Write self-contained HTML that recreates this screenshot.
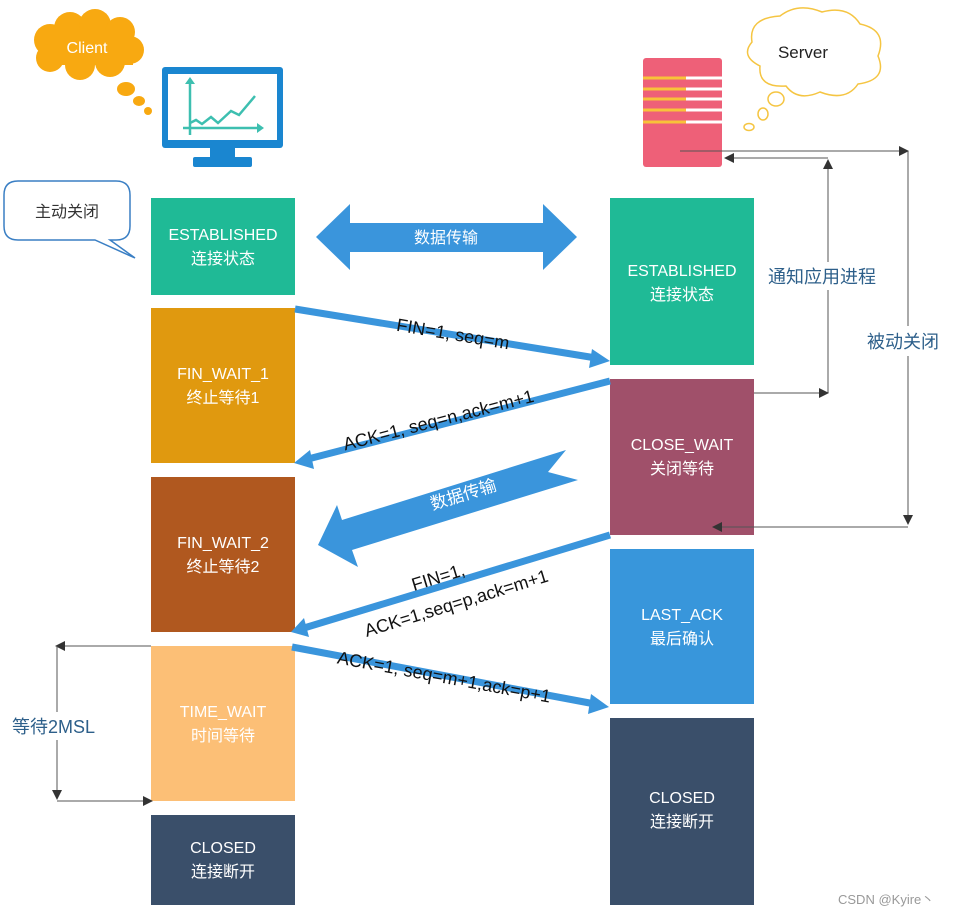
<!DOCTYPE html>
<html><head><meta charset="utf-8"><style>
html,body{margin:0;padding:0;background:#fff;}
svg{display:block;}
text{font-family:"Liberation Sans","Noto Sans CJK SC",sans-serif;}
</style></head><body>
<svg width="954" height="915" viewBox="0 0 954 915" xmlns="http://www.w3.org/2000/svg">
<defs>
<marker id="ah" markerWidth="10" markerHeight="10" refX="9" refY="5" orient="auto" markerUnits="userSpaceOnUse"><path d="M0,0 L10,5 L0,10 Z" fill="#333"/></marker>
</defs>
<g fill="#f8a911">
<circle cx="50" cy="40" r="16"/><circle cx="70" cy="28" r="16"/><circle cx="95" cy="25" r="16"/><circle cx="120" cy="32" r="15"/><circle cx="130" cy="50" r="14"/><circle cx="110" cy="62" r="15"/><circle cx="80" cy="65" r="15"/><circle cx="50" cy="58" r="14"/><rect x="48" y="30" width="85" height="35"/>
<ellipse cx="126" cy="89" rx="9" ry="7"/><ellipse cx="139" cy="101" rx="6" ry="5"/><ellipse cx="148" cy="111" rx="4" ry="4"/>
</g>
<text x="87" y="53" font-size="16" fill="#fff" text-anchor="middle">Client</text>
<rect x="162" y="67" width="121" height="81" rx="3" fill="#1a86d0"/>
<rect x="168" y="74" width="109" height="66" fill="#fff"/>
<rect x="210" y="147" width="25" height="11" fill="#1a86d0"/>
<rect x="193" y="157" width="59" height="10" rx="2" fill="#1a86d0"/>
<g stroke="#3dbfb0" stroke-width="2.5" fill="none">
<line x1="190" y1="80" x2="190" y2="135"/><line x1="183" y1="128" x2="262" y2="128"/>
<polyline points="190,123 196,120 202,124 211,117 218,123 231,111 239,115 255,96"/>
</g>
<path d="M185,84 L190,77 L195,84Z M257,123 L264,128 L257,133Z" fill="#3dbfb0"/>
<path d="M18,181 H116 Q130,181 130,195 V226 Q130,240 116,240 H110 L135,258 L95,240 H18 Q4,240 4,226 V195 Q4,181 18,181 Z" fill="#fff" stroke="#3a7fc4" stroke-width="1.5"/>
<text x="67" y="217" font-size="16" fill="#333" text-anchor="middle">主动关闭</text>
<g fill="#fff" stroke="#f5c542" stroke-width="1.5">
<path d="M752,42 Q748,18 780,16 Q798,2 822,12 Q848,5 860,24 Q888,30 878,56 Q888,80 858,84 Q846,102 820,92 Q798,102 786,86 Q758,88 760,66 Q740,56 752,42Z"/>
<ellipse cx="776" cy="99" rx="8" ry="7"/><ellipse cx="763" cy="114" rx="5" ry="6"/><ellipse cx="749" cy="127" rx="5" ry="3.5"/>
</g>
<text x="803" y="58" font-size="17" fill="#222" text-anchor="middle">Server</text>
<rect x="643" y="58" width="79" height="109" rx="3" fill="#ee6078"/>
<g stroke-width="3">
<line x1="643" y1="78" x2="686" y2="78" stroke="#f8c23a"/><line x1="686" y1="78" x2="722" y2="78" stroke="#fff"/>
<line x1="643" y1="89" x2="686" y2="89" stroke="#f8c23a"/><line x1="686" y1="89" x2="722" y2="89" stroke="#fff"/>
<line x1="643" y1="99" x2="686" y2="99" stroke="#f8c23a"/><line x1="686" y1="99" x2="722" y2="99" stroke="#fff"/>
<line x1="643" y1="110" x2="686" y2="110" stroke="#f8c23a"/><line x1="686" y1="110" x2="722" y2="110" stroke="#fff"/>
<line x1="643" y1="122" x2="686" y2="122" stroke="#f8c23a"/><line x1="686" y1="122" x2="722" y2="122" stroke="#fff"/>
</g>
<g font-size="16" fill="#fff" text-anchor="middle">
<rect x="151" y="198" width="144" height="97" fill="#1fba96"/>
<text x="223" y="240">ESTABLISHED</text><text x="223" y="264">连接状态</text>
<rect x="151" y="308" width="144" height="155" fill="#e0990f"/>
<text x="223" y="379">FIN_WAIT_1</text><text x="223" y="403">终止等待1</text>
<rect x="151" y="477" width="144" height="155" fill="#b0581f"/>
<text x="223" y="548">FIN_WAIT_2</text><text x="223" y="572">终止等待2</text>
<rect x="151" y="646" width="144" height="155" fill="#fcbf76"/>
<text x="223" y="717">TIME_WAIT</text><text x="223" y="741">时间等待</text>
<rect x="151" y="815" width="144" height="90" fill="#3a4f6a"/>
<text x="223" y="853">CLOSED</text><text x="223" y="877">连接断开</text>
<rect x="610" y="198" width="144" height="167" fill="#1fba96"/>
<text x="682" y="276">ESTABLISHED</text><text x="682" y="300">连接状态</text>
<rect x="610" y="379" width="144" height="156" fill="#a0506a"/>
<text x="682" y="450">CLOSE_WAIT</text><text x="682" y="474">关闭等待</text>
<rect x="610" y="549" width="144" height="155" fill="#3896db"/>
<text x="682" y="620">LAST_ACK</text><text x="682" y="644">最后确认</text>
<rect x="610" y="718" width="144" height="187" fill="#3a4f6a"/>
<text x="682" y="803">CLOSED</text><text x="682" y="827">连接断开</text>
</g>
<path d="M316,237 L350,204 L350,223 L543,223 L543,204 L577,237 L543,270 L543,252 L350,252 L350,270 Z" fill="#3a95dc"/>
<text x="446" y="243" font-size="16" fill="#fff" text-anchor="middle">数据传输</text>
<g stroke="#3a95dc" stroke-width="7" fill="#3a95dc">
<line x1="295" y1="309" x2="596" y2="358"/>
<line x1="610" y1="381" x2="308" y2="459"/>
<line x1="610" y1="535" x2="304" y2="628"/>
<line x1="292" y1="647" x2="595" y2="704"/>
</g>
<g fill="#3a95dc">
<path d="M610,361 L592,349 L589,368 Z"/>
<path d="M294,463 L310,450 L314,469 Z"/>
<path d="M291,632 L304,618 L309,637 Z"/>
<path d="M609,707 L591,694 L588,714 Z"/>
<path d="M318,545 L337,505 L342,520 L566,450 L548,472 L578,480 L352,550 L358,567 Z"/>
</g>
<text x="465" y="500" font-size="17" fill="#fff" text-anchor="middle" transform="rotate(-17 465 500)">数据传输</text>
<g font-size="18" fill="#111" text-anchor="middle">
<text x="452" y="340" transform="rotate(9.5 452 340)">FIN=1,  seq=m</text>
<text x="440" y="426" transform="rotate(-14.5 440 426)">ACK=1,  seq=n,ack=m+1</text>
<text x="440" y="583" transform="rotate(-17 440 583)">FIN=1,</text>
<text x="458" y="609" transform="rotate(-17 458 609)">ACK=1,seq=p,ack=m+1</text>
<text x="443" y="683" transform="rotate(10.5 443 683)">ACK=1,  seq=m+1,ack=p+1</text>
</g>
<g stroke="#555" stroke-width="1" fill="none">
<line x1="680" y1="151" x2="908" y2="151" marker-end="url(#ah)"/>
<line x1="828" y1="158" x2="725" y2="158" marker-end="url(#ah)"/>
<line x1="828" y1="393" x2="828" y2="160" marker-end="url(#ah)"/>
<line x1="754" y1="393" x2="828" y2="393" marker-end="url(#ah)"/>
<line x1="908" y1="151" x2="908" y2="524" marker-end="url(#ah)"/>
<line x1="908" y1="527" x2="713" y2="527" marker-end="url(#ah)"/>
<line x1="151" y1="646" x2="56" y2="646" marker-end="url(#ah)"/>
<line x1="57" y1="646" x2="57" y2="799" marker-end="url(#ah)"/>
<line x1="57" y1="801" x2="152" y2="801" marker-end="url(#ah)"/>
</g>
<rect x="766" y="262" width="126" height="28" fill="#fff"/>
<rect x="864" y="326" width="88" height="30" fill="#fff"/>
<rect x="10" y="712" width="92" height="28" fill="#fff"/>
<g font-size="18" fill="#2d5f8a">
<text x="768" y="283">通知应用进程</text>
<text x="867" y="348">被动关闭</text>
<text x="12" y="733">等待2MSL</text>
</g>
<text x="838" y="904" font-size="13" fill="#999">CSDN @Kyire丶</text>
</svg>
</body></html>
